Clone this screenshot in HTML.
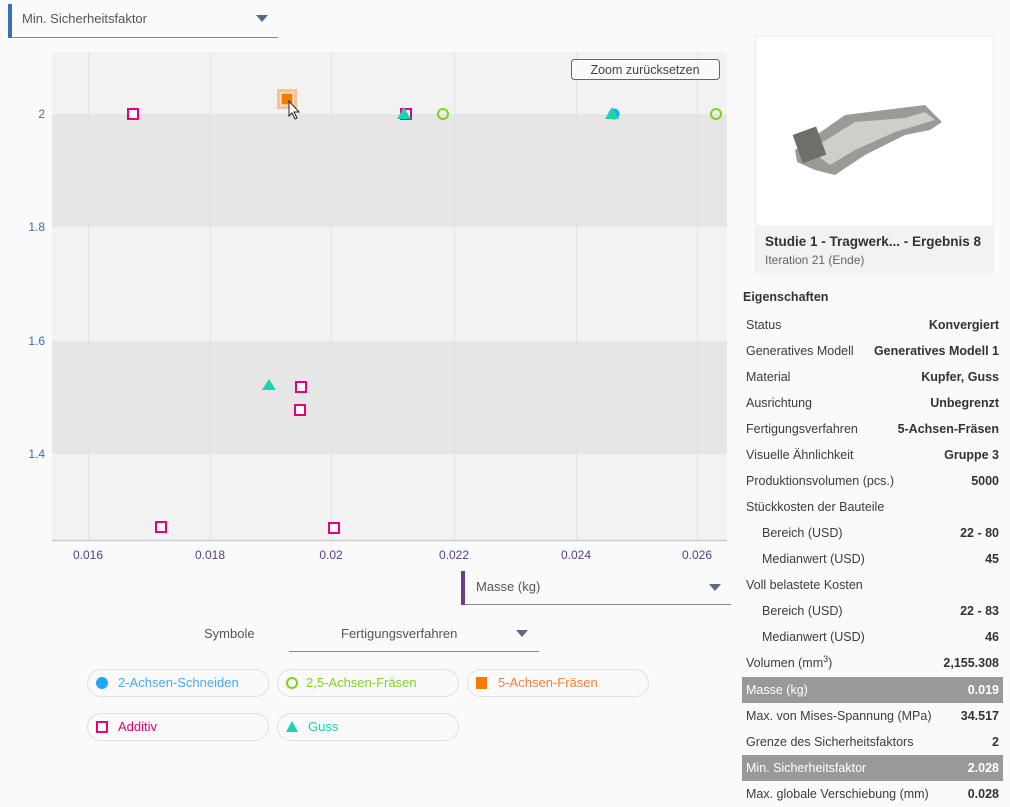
<!DOCTYPE html>
<html><head><meta charset="utf-8"><style>
body{margin:0;width:1010px;height:807px;background:#fafafa;font-family:"Liberation Sans",sans-serif;position:relative;overflow:hidden;color:#3c3c3c}
.a{position:absolute}
.row{position:absolute;left:742px;width:261px;height:26px;font-size:12.5px;line-height:26px}
.row .l{position:absolute;left:4px}
.row .v{position:absolute;right:4px;font-weight:bold;color:#333}
.row.h{background:#999;color:#fff}
.row.h .v{color:#fff}
sup{font-size:9px;line-height:0;vertical-align:5px}
.pill{position:absolute;height:26px;border:1px solid #e0e0e0;border-radius:14px;font-size:13px;line-height:26px;background:#fafafa}
</style></head><body>
<div class="a" style="left:8px;top:4px;width:4px;height:34px;background:#3a6fb5"></div>
<div class="a" style="left:12px;top:37px;width:266px;height:1px;background:#888"></div>
<div class="a" style="left:22px;top:11px;font-size:13px;color:#555">Min. Sicherheitsfaktor</div>
<div class="a" style="left:256px;top:15px;border-left:6px solid transparent;border-right:6px solid transparent;border-top:7px solid #5a6a80"></div>

<svg class="a" style="left:0;top:0" width="740" height="560">
<rect x="52" y="52" width="675" height="488" fill="#f2f2f2"/>
<rect x="52" y="114" width="675" height="113" fill="#e6e6e6"/>
<rect x="52" y="341" width="675" height="113" fill="#e6e6e6"/>
<g stroke="#e2e2e2" stroke-width="1">
<line x1="88.5" y1="52" x2="88.5" y2="540"/><line x1="210.5" y1="52" x2="210.5" y2="540"/><line x1="331.5" y1="52" x2="331.5" y2="540"/><line x1="454.5" y1="52" x2="454.5" y2="540"/><line x1="576.5" y1="52" x2="576.5" y2="540"/><line x1="697.5" y1="52" x2="697.5" y2="540"/>
</g>
<line x1="52" y1="540.5" x2="727" y2="540.5" stroke="#ccc" stroke-width="1.5"/>
<g font-size="12" fill="#3a6fb5" text-anchor="end">
<text x="45" y="118">2</text><text x="45" y="231">1.8</text><text x="45" y="345">1.6</text><text x="45" y="458">1.4</text></g>
<g font-size="12" fill="#5a3d8a" text-anchor="middle">
<text x="88" y="559">0.016</text><text x="210" y="559">0.018</text><text x="331" y="559">0.02</text><text x="454" y="559">0.022</text><text x="576" y="559">0.024</text><text x="697" y="559">0.026</text></g>
<rect x="571.5" y="59.5" width="148" height="20" rx="3" fill="#fafafa" stroke="#666"/>
<text x="645" y="74" font-size="12.5" fill="#444" text-anchor="middle">Zoom zurücksetzen</text>
<g fill="none" stroke="#e6007e" stroke-width="2">
<rect x="128" y="109" width="10" height="10" fill="#fff"/>
<rect x="401" y="109" width="10" height="10" fill="#fff"/>
<rect x="296" y="382" width="10" height="10" fill="#fff"/>
<rect x="295" y="405" width="10" height="10" fill="#fff"/>
<rect x="156" y="522" width="10" height="10" fill="#fff"/>
<rect x="329" y="523" width="10" height="10" fill="#fff"/>
</g>
<circle cx="614" cy="114" r="5.5" fill="#1ea7fd"/>
<g fill="#1bd3b0">
<polygon points="404,107 411,119 397,119"/>
<polygon points="612,107 619,119 605,119"/>
<polygon points="269,379 276,390 262,390"/>
</g>
<g fill="none" stroke="#7ed321" stroke-width="2">
<circle cx="443" cy="114" r="5"/><circle cx="716" cy="114" r="5"/></g>
<rect x="277" y="89" width="20" height="20" fill="#f5b77a" opacity="0.8"/>
<rect x="281" y="93" width="12" height="12" fill="#f57c00" stroke="#fff" stroke-width="1"/>
<polygon points="289,101 289,116 292,113 295,119 297,118 294,112 299,112" fill="#fff" stroke="#222" stroke-width="1"/>
</svg>

<div class="a" style="left:461px;top:571px;width:4px;height:34px;background:#6b3d8e"></div>
<div class="a" style="left:465px;top:604px;width:266px;height:1px;background:#888"></div>
<div class="a" style="left:476px;top:579px;font-size:13px;color:#555">Masse (kg)</div>
<div class="a" style="left:709px;top:584px;border-left:6px solid transparent;border-right:6px solid transparent;border-top:7px solid #5a6a80"></div>

<div class="a" style="left:204px;top:626px;font-size:13px;color:#555">Symbole</div>
<div class="a" style="left:341px;top:626px;font-size:13px;color:#555">Fertigungsverfahren</div>
<div class="a" style="left:516px;top:630px;border-left:6px solid transparent;border-right:6px solid transparent;border-top:7px solid #5a6a80"></div>
<div class="a" style="left:289px;top:651px;width:250px;height:1px;background:#888"></div>

<div class="pill" style="left:87px;top:669px;width:180px"><span style="position:absolute;left:8px;top:7px;width:12px;height:12px;border-radius:50%;background:#1ea7fd"></span><span style="position:absolute;left:30px;color:#4aa8f0">2-Achsen-Schneiden</span></div>
<div class="pill" style="left:277px;top:669px;width:180px"><span style="position:absolute;left:8px;top:7px;width:8px;height:8px;border-radius:50%;border:2px solid #7ed321"></span><span style="position:absolute;left:28px;color:#7ed321">2,5-Achsen-Fräsen</span></div>
<div class="pill" style="left:467px;top:669px;width:180px"><span style="position:absolute;left:8px;top:7px;width:11px;height:12px;background:#f57c00"></span><span style="position:absolute;left:30px;color:#f5803a">5-Achsen-Fräsen</span></div>
<div class="pill" style="left:87px;top:713px;width:180px"><span style="position:absolute;left:8px;top:7px;width:8px;height:8px;border:2px solid #e6007e"></span><span style="position:absolute;left:30px;color:#e6007e">Additiv</span></div>
<div class="pill" style="left:277px;top:713px;width:180px"><span style="position:absolute;left:8px;top:7px;border-left:6px solid transparent;border-right:6px solid transparent;border-bottom:11px solid #1bd3b0"></span><span style="position:absolute;left:30px;color:#1bd3b0">Guss</span></div>

<div class="a" style="left:755px;top:36px;width:237px;height:237px;background:#fff;border:1px solid #eee"></div>
<div class="a" style="left:756px;top:225px;width:237px;height:48px;background:#f2f2f2"></div>
<svg class="a" style="left:785px;top:100px" width="170" height="90">
<polygon points="10,50 60,15 100,10 140,5 157,22 145,30 120,35 80,55 50,75 30,70 12,62" fill="#9a9a96"/>
<polygon points="25,50 70,22 120,18 140,12 150,20 110,32 70,50 45,65" fill="#cfcfca"/>
<rect x="12" y="30" width="25" height="30" fill="#6f6f6a" transform="rotate(-20 24 45)"/>
</svg>
<div class="a" style="left:765px;top:234px;font-size:13.5px;font-weight:bold;color:#333">Studie 1 - Tragwerk... - Ergebnis 8</div>
<div class="a" style="left:765px;top:253px;font-size:12px;color:#666">Iteration 21 (Ende)</div>
<div class="a" style="left:743px;top:290px;font-size:12.5px;font-weight:bold;color:#333">Eigenschaften</div>

<div class="row" style="top:312px"><span class="l">Status</span><span class="v">Konvergiert</span></div>
<div class="row" style="top:338px"><span class="l">Generatives Modell</span><span class="v">Generatives Modell 1</span></div>
<div class="row" style="top:364px"><span class="l">Material</span><span class="v">Kupfer, Guss</span></div>
<div class="row" style="top:390px"><span class="l">Ausrichtung</span><span class="v">Unbegrenzt</span></div>
<div class="row" style="top:416px"><span class="l">Fertigungsverfahren</span><span class="v">5-Achsen-Fräsen</span></div>
<div class="row" style="top:442px"><span class="l">Visuelle Ähnlichkeit</span><span class="v">Gruppe 3</span></div>
<div class="row" style="top:468px"><span class="l">Produktionsvolumen (pcs.)</span><span class="v">5000</span></div>
<div class="row" style="top:494px"><span class="l">Stückkosten der Bauteile</span></div>
<div class="row" style="top:520px"><span class="l" style="left:20px">Bereich (USD)</span><span class="v">22 - 80</span></div>
<div class="row" style="top:546px"><span class="l" style="left:20px">Medianwert (USD)</span><span class="v">45</span></div>
<div class="row" style="top:572px"><span class="l">Voll belastete Kosten</span></div>
<div class="row" style="top:598px"><span class="l" style="left:20px">Bereich (USD)</span><span class="v">22 - 83</span></div>
<div class="row" style="top:624px"><span class="l" style="left:20px">Medianwert (USD)</span><span class="v">46</span></div>
<div class="row" style="top:650px"><span class="l">Volumen (mm<sup>3</sup>)</span><span class="v">2,155.308</span></div>
<div class="row h" style="top:677px"><span class="l">Masse (kg)</span><span class="v">0.019</span></div>
<div class="row" style="top:703px"><span class="l">Max. von Mises-Spannung (MPa)</span><span class="v">34.517</span></div>
<div class="row" style="top:729px"><span class="l">Grenze des Sicherheitsfaktors</span><span class="v">2</span></div>
<div class="row h" style="top:755px"><span class="l">Min. Sicherheitsfaktor</span><span class="v">2.028</span></div>
<div class="row" style="top:781px"><span class="l">Max. globale Verschiebung (mm)</span><span class="v">0.028</span></div>
</body></html>
